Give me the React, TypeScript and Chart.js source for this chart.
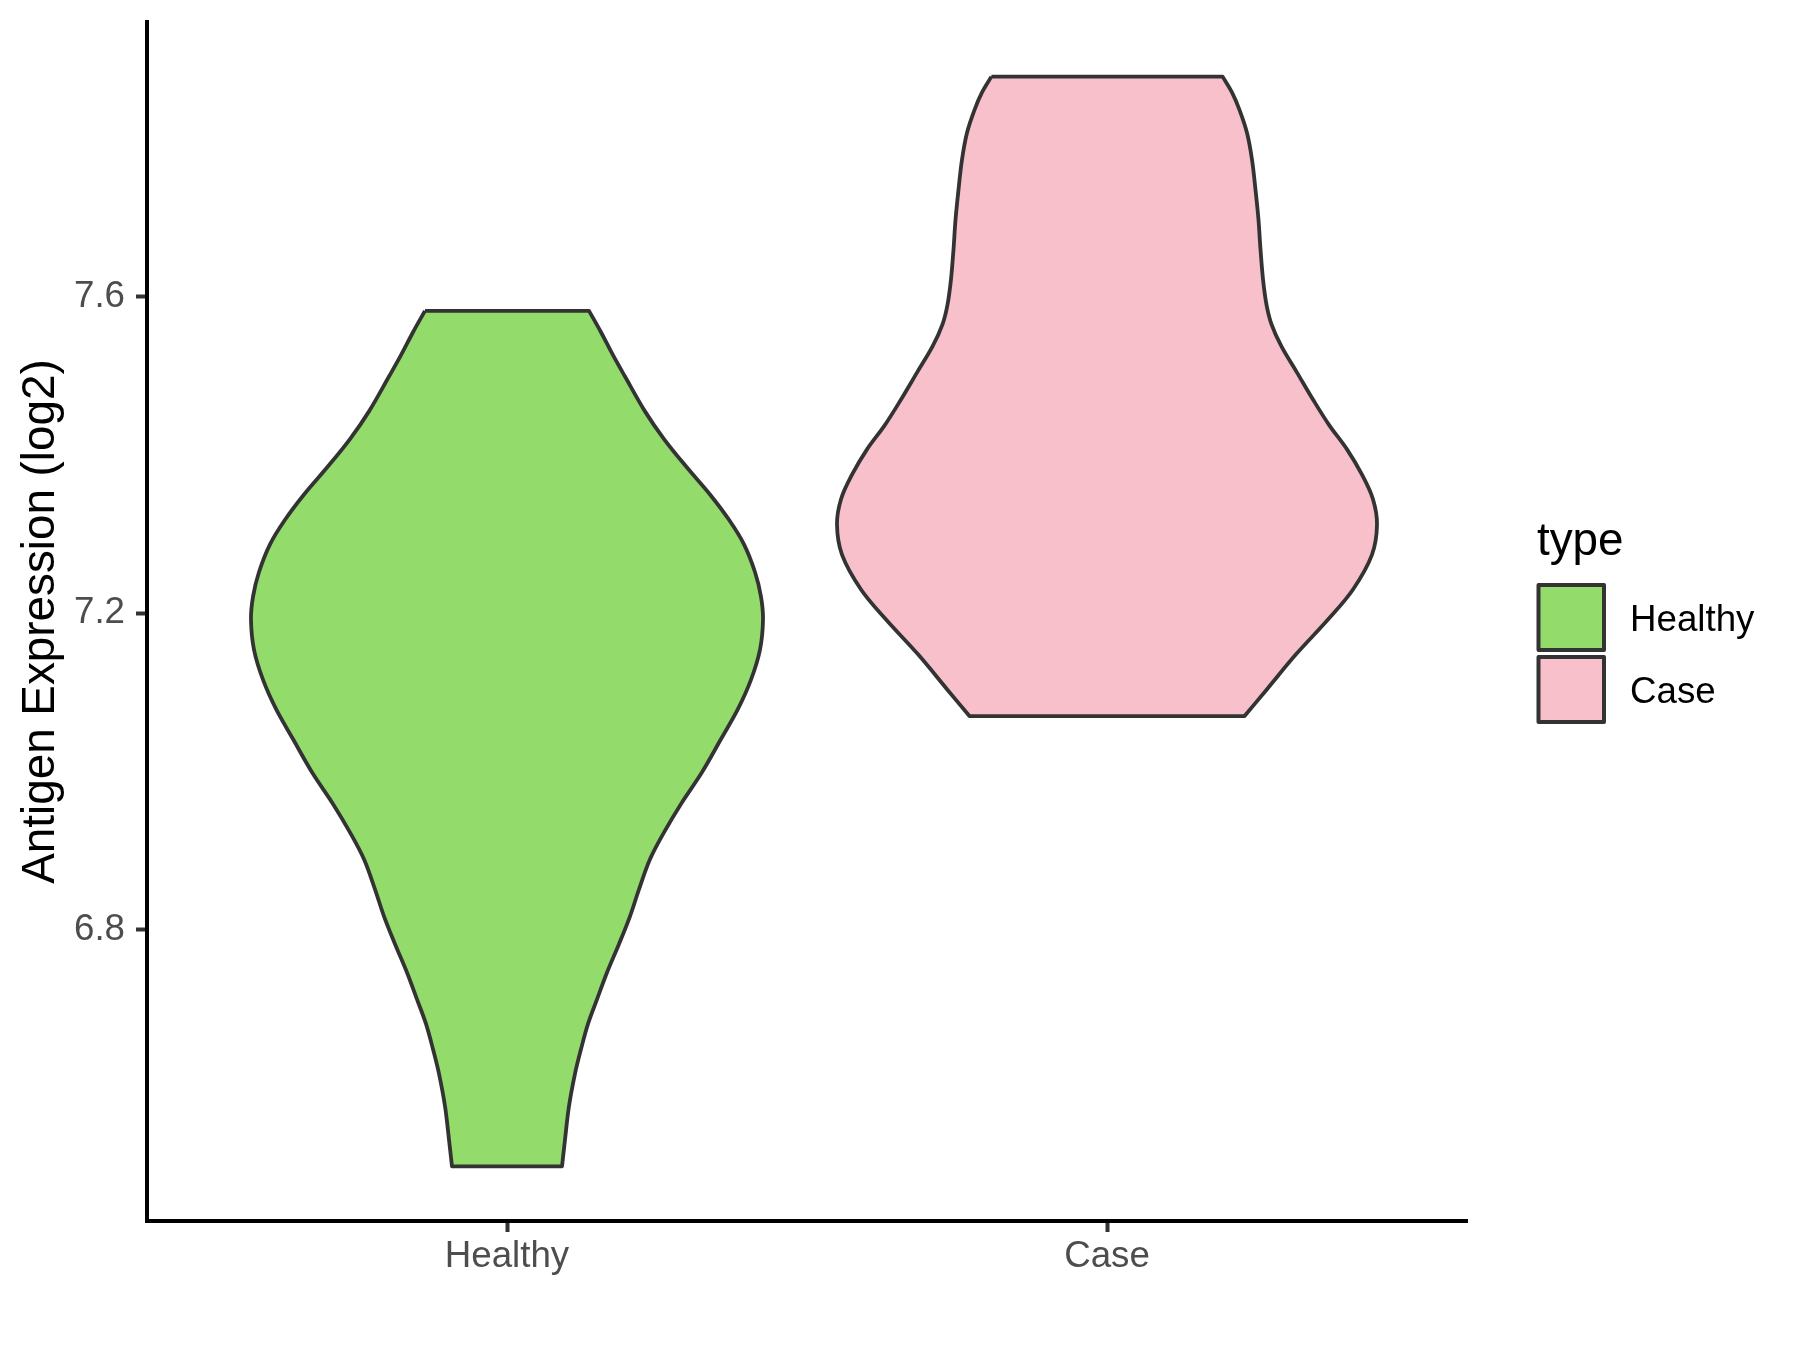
import React, { useEffect, useRef } from "react";
import { Chart, registerables } from "chart.js";

Chart.register(...registerables);

const FONT = "'Liberation Sans', Arial, Helvetica, sans-serif";

const categories = ["Healthy", "Case"];
const categoryPositions = [1, 2];
const yTickValues = [6.8, 7.2, 7.6];
const yAxisTitle = "Antigen Expression (log2)";
const legendTitle = "type";
const fillColors = ["#93DB6B", "#F7C0CB"];

// Violin profiles: y value and half-width (in category units)
const healthyValues = [7.582, 7.555, 7.526, 7.499, 7.455, 7.42, 7.384, 7.35, 7.318, 7.287, 7.252, 7.221, 7.192, 7.154, 7.116, 7.079, 7.041, 6.999, 6.959, 6.923, 6.889, 6.851, 6.817, 6.782, 6.746, 6.712, 6.681, 6.649, 6.618, 6.577, 6.535, 6.501];
const healthyHalfWidths = [0.1367, 0.1567, 0.1767, 0.1967, 0.23, 0.2617, 0.3, 0.3383, 0.37, 0.395, 0.4133, 0.4233, 0.4267, 0.4217, 0.4067, 0.385, 0.3567, 0.325, 0.29, 0.2617, 0.2383, 0.22, 0.205, 0.1867, 0.1667, 0.15, 0.135, 0.1233, 0.1133, 0.1033, 0.0967, 0.0917];

const caseValues = [7.878, 7.858, 7.836, 7.807, 7.773, 7.735, 7.697, 7.66, 7.622, 7.59, 7.565, 7.537, 7.504, 7.47, 7.438, 7.407, 7.375, 7.344, 7.312, 7.274, 7.23, 7.192, 7.148, 7.104, 7.07];
const caseHalfWidths = [0.1927, 0.2083, 0.2208, 0.2333, 0.2417, 0.2475, 0.2525, 0.2558, 0.26, 0.2658, 0.2742, 0.2908, 0.3167, 0.3433, 0.37, 0.4, 0.425, 0.4433, 0.45, 0.4417, 0.41, 0.3683, 0.315, 0.2667, 0.2293];

const yMin = 6.432;
const yMax = 7.947;

function violinOutline(center: number, values: number[], halfWidths: number[]) {
  const n = values.length;
  const pts: { x: number; y: number }[] = [];
  pts.push({ x: center - halfWidths[0], y: values[0] });
  pts.push({ x: center - halfWidths[0], y: values[0] });
  for (let i = 0; i < n; i++) {
    if (i === 0) pts.push({ x: center + halfWidths[0], y: values[0] });
    pts.push({ x: center + halfWidths[i], y: values[i] });
  }
  pts.push({ x: center + halfWidths[n - 1], y: values[n - 1] });
  pts.push({ x: center - halfWidths[n - 1], y: values[n - 1] });
  for (let i = n - 1; i >= 0; i--) pts.push({ x: center - halfWidths[i], y: values[i] });
  pts.push({ x: center - halfWidths[0], y: values[0] });
  return pts;
}

const legendPlugin = {
  id: "ggLegend",
  afterDraw(chart: any) {
    const ctx = chart.ctx as CanvasRenderingContext2D;
    ctx.save();
    ctx.textAlign = "left";
    ctx.textBaseline = "alphabetic";
    ctx.fillStyle = "#000000";
    ctx.font = `45.8px ${FONT}`;
    ctx.fillText(legendTitle, 1537, 555);
    categories.forEach((c, i) => {
      const top = 585 + i * 72;
      ctx.fillStyle = fillColors[i];
      ctx.fillRect(1538.5, top, 65.5, 65);
      ctx.strokeStyle = "#333333";
      ctx.lineWidth = 4;
      ctx.lineJoin = "round";
      ctx.strokeRect(1538.5, top, 65.5, 65);
      ctx.fillStyle = "#000000";
      ctx.font = `36.7px ${FONT}`;
      ctx.textBaseline = "middle";
      ctx.fillText(c, 1630, top + 36);
    });
    ctx.restore();
  },
};

const zeroPadding = (s: any) => {
  s.paddingTop = 0;
  s.paddingBottom = 0;
  s.paddingLeft = 0;
  s.paddingRight = 0;
};

export default function App() {
  const ref = useRef<HTMLCanvasElement | null>(null);

  useEffect(() => {
    if (!ref.current) return;
    const makeDataset = (i: number, values: number[], widths: number[]) =>
      ({
        label: categories[i],
        data: violinOutline(categoryPositions[i], values, widths),
        showLine: true,
        fill: "shape",
        backgroundColor: fillColors[i],
        borderColor: "#333333",
        borderWidth: 3.8,
        borderJoinStyle: "round",
        tension: 0.35,
        pointRadius: 0,
        pointHoverRadius: 0,
      }) as any;
    const chart = new Chart(ref.current, {
      type: "scatter",
      data: {
        datasets: [
          makeDataset(0, healthyValues, healthyHalfWidths),
          makeDataset(1, caseValues, caseHalfWidths),
        ],
      },
      options: {
        animation: false,
        responsive: false,
        devicePixelRatio: 1,
        events: [],
        layout: { padding: { top: 22, right: 333, left: 0, bottom: 0 } },
        plugins: {
          legend: { display: false },
          tooltip: { enabled: false },
        },
        scales: {
          x: {
            type: "linear",
            min: 0.4,
            max: 2.6,
            afterBuildTicks: (s: any) => {
              s.ticks = categoryPositions.map((v) => ({ value: v }));
            },
            afterFit: (s: any) => {
              s.height = 129;
              zeroPadding(s);
            },
            ticks: {
              callback: (v: any) => {
                const i = categoryPositions.indexOf(Number(v));
                return i >= 0 ? categories[i] : "";
              },
              color: "#4D4D4D",
              font: { family: FONT, size: 36.7 },
              padding: 3,
              maxRotation: 0,
              autoSkip: false,
            },
            grid: {
              display: true,
              drawOnChartArea: false,
              drawTicks: true,
              tickLength: 11,
              tickColor: "#333333",
              tickWidth: 4,
            },
            border: { display: true, color: "#000000", width: 4 },
          },
          y: {
            type: "linear",
            min: yMin,
            max: yMax,
            afterBuildTicks: (s: any) => {
              s.ticks = yTickValues.map((v) => ({ value: v }));
            },
            afterFit: (s: any) => {
              s.width = 147;
              zeroPadding(s);
            },
            ticks: {
              callback: (v: any) => Number(v).toFixed(1),
              color: "#4D4D4D",
              font: { family: FONT, size: 36.7 },
              padding: 11,
            },
            grid: {
              display: true,
              drawOnChartArea: false,
              drawTicks: true,
              tickLength: 11,
              tickColor: "#333333",
              tickWidth: 4,
            },
            border: { display: true, color: "#000000", width: 4 },
            title: {
              display: true,
              text: yAxisTitle,
              color: "#000000",
              font: { family: FONT, size: 45.8 },
              padding: { top: 14, bottom: 0 },
            },
          },
        },
      } as any,
      plugins: [legendPlugin],
    });
    return () => chart.destroy();
  }, []);

  return (
    <div style={{ position: "absolute", left: 0, top: 0, width: 1800, height: 1350, background: "#ffffff" }}>
      <canvas ref={ref} width={1800} height={1350} style={{ display: "block" }} />
    </div>
  );
}
